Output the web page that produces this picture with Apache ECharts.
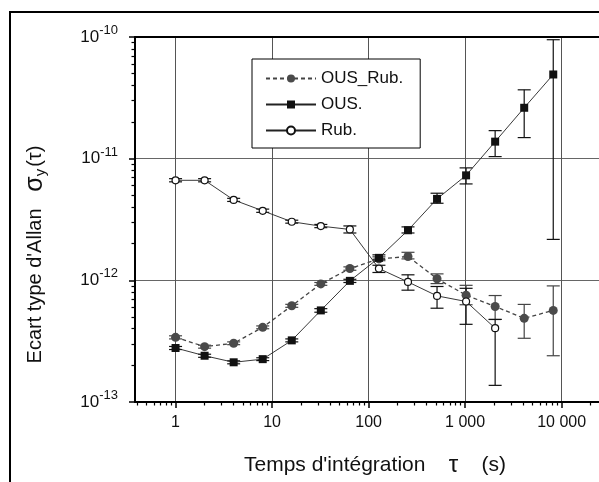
<!DOCTYPE html>
<html>
<head>
<meta charset="utf-8">
<script src="https://cdn.jsdelivr.net/npm/echarts@6/dist/echarts.min.js"></script>
<style>html,body{margin:0;padding:0;background:#fff;}#c{width:599px;height:482px;}</style>
</head>
<body>
<div id="c"></div>
<script>
// Integration time tau (s)
var tau = [1, 2, 4, 8, 16, 32, 64, 128, 256, 512, 1024, 2048, 4096, 8192];

// OUS_Rub
var ousRub     = [3.40e-13, 2.85e-13, 3.04e-13, 4.11e-13, 6.18e-13, 9.35e-13, 1.25e-12, 1.50e-12, 1.57e-12, 1.03e-12, 7.55e-13, 6.10e-13, 4.87e-13, 5.66e-13];
var ousRubHigh = [3.50e-13, 2.93e-13, 3.12e-13, 4.22e-13, 6.35e-13, 9.60e-13, 1.29e-12, 1.56e-12, 1.70e-12, 1.13e-12, 9.10e-13, 7.50e-13, 6.34e-13, 9.00e-13];
var ousRubLow  = [3.30e-13, 2.77e-13, 2.96e-13, 4.00e-13, 6.00e-13, 9.10e-13, 1.21e-12, 1.45e-12, 1.50e-12, 9.40e-13, 6.30e-13, 4.77e-13, 3.34e-13, 2.40e-13];

// OUS.
var ous     = [2.78e-13, 2.40e-13, 2.12e-13, 2.25e-13, 3.21e-13, 5.66e-13, 9.90e-13, 1.53e-12, 2.58e-12, 4.67e-12, 7.29e-12, 1.38e-11, 2.62e-11, 4.92e-11];
var ousHigh = [2.86e-13, 2.47e-13, 2.18e-13, 2.31e-13, 3.30e-13, 5.85e-13, 1.02e-12, 1.62e-12, 2.75e-12, 5.20e-12, 8.40e-12, 1.70e-11, 3.68e-11, 9.50e-11];
var ousLow  = [2.70e-13, 2.33e-13, 2.06e-13, 2.19e-13, 3.12e-13, 5.47e-13, 9.60e-13, 1.49e-12, 2.45e-12, 4.30e-12, 6.20e-12, 1.04e-11, 1.49e-11, 2.17e-12];

// Rub. (no values at 4096, 8192)
var rub     = [6.64e-12, 6.64e-12, 4.58e-12, 3.73e-12, 3.03e-12, 2.79e-12, 2.62e-12, 1.25e-12, 9.70e-13, 7.45e-13, 6.70e-13, 4.04e-13];
var rubHigh = [6.85e-12, 6.85e-12, 4.72e-12, 3.85e-12, 3.12e-12, 2.88e-12, 2.80e-12, 1.33e-12, 1.11e-12, 8.90e-13, 8.60e-13, 4.77e-13];
var rubLow  = [6.45e-12, 6.45e-12, 4.45e-12, 3.62e-12, 2.95e-12, 2.71e-12, 2.45e-12, 1.16e-12, 8.30e-13, 5.90e-13, 4.35e-13, 1.37e-13];

var seriesNames = ['OUS_Rub.', 'OUS.', 'Rub.'];

// Axis ticks / labels
var xMajor = [1, 10, 100, 1000, 10000];
var xMinor = [0.4, 0.5, 0.6, 0.7, 0.8, 0.9];
var yMajor = [1e-13, 1e-12, 1e-11, 1e-10];
var yMinor = [];
(function () {
  var xd = [1, 10, 100, 1000, 10000];
  for (var i = 0; i < xd.length; i++) for (var m = 2; m <= 9; m++) xMinor.push(m * xd[i]);
  var yd = [1e-13, 1e-12, 1e-11];
  for (var j = 0; j < yd.length; j++) for (var k = 2; k <= 9; k++) yMinor.push(k * yd[j]);
})();

var FONT = '"Liberation Sans", Arial, sans-serif';

function pairs(v) { var r = []; for (var i = 0; i < v.length; i++) r.push([tau[i], v[i]]); return r; }
function errRows(lo, hi) { var r = []; for (var i = 0; i < lo.length; i++) r.push([tau[i], lo[i], hi[i]]); return r; }
function errRender(color) {
  return function (params, api) {
    var x = api.value(0), lo = api.value(1), hi = api.value(2);
    var p1 = api.coord([x, hi]), p2 = api.coord([x, lo]);
    var w = 6.5;
    var st = { stroke: color, lineWidth: 1.2 };
    return { type: 'group', children: [
      { type: 'line', shape: { x1: p1[0], y1: p1[1], x2: p2[0], y2: p2[1] }, style: st },
      { type: 'line', shape: { x1: p1[0] - w, y1: p1[1], x2: p1[0] + w, y2: p1[1] }, style: st },
      { type: 'line', shape: { x1: p2[0] - w, y1: p2[1], x2: p2[0] + w, y2: p2[1] }, style: st }
    ] };
  };
}

var XMIN = 0.38, XMAX = 24400, YMIN = 1e-13, YMAX = 1e-10;

var chart = echarts.init(document.getElementById('c'), null, { renderer: 'canvas' });
chart.setOption({
  animation: false,
  backgroundColor: '#fff',
  textStyle: { fontFamily: FONT },
  graphic: [{ type: 'rect', z: 100, silent: true, shape: { x: 10, y: 12, width: 700, height: 600 }, style: { fill: 'none', stroke: '#000', lineWidth: 2 } }],
  grid: { left: 135, top: 37, right: 0, bottom: 79 },
  legend: {
    orient: 'vertical', left: 252, top: 59,
    padding: [11, 17, 9, 13], itemGap: 9, itemWidth: 50, itemHeight: 10,
    backgroundColor: '#fff', borderColor: '#000', borderWidth: 1,
    textStyle: { fontSize: 17, color: '#111', fontFamily: FONT },
    data: seriesNames
  },
  xAxis: [
    {
      type: 'log', logBase: 10, min: XMIN, max: XMAX, position: 'bottom',
      axisLine: { lineStyle: { color: '#000', width: 2 } },
      axisTick: { customValues: xMajor, length: 6, lineStyle: { color: '#000', width: 1.5 } },
      axisLabel: { customValues: xMajor, margin: 13, fontSize: 16, color: '#111', fontFamily: FONT,
        formatter: function (v) { return String(Math.round(v)).replace(/\B(?=(\d{3})+(?!\d))/g, ' '); } },
      splitLine: { show: true, lineStyle: { color: '#555', width: 1 } },
      name: '{t|Temps d\'intégration    }{g|τ}{t|    (s)}', nameLocation: 'middle', nameGap: 50,
      nameTextStyle: { padding: [0, 0, 0, 16], rich: {
        t: { fontSize: 21, color: '#111', fontFamily: FONT, lineHeight: 26 },
        g: { fontSize: 24, color: '#111', fontFamily: FONT, lineHeight: 26 }
      } }
    },
    {
      type: 'log', logBase: 10, min: XMIN, max: XMAX, position: 'bottom',
      axisLine: { show: false },
      axisTick: { customValues: xMinor, length: 3.5, lineStyle: { color: '#000', width: 1.2 } },
      axisLabel: { show: false }, splitLine: { show: false }
    },
    {
      type: 'log', logBase: 10, min: XMIN, max: XMAX, position: 'top',
      axisLine: { lineStyle: { color: '#000', width: 2 } },
      axisTick: { show: false }, axisLabel: { show: false }, splitLine: { show: false }
    }
  ],
  yAxis: [
    {
      type: 'log', logBase: 10, min: YMIN, max: YMAX, position: 'left',
      axisLine: { lineStyle: { color: '#000', width: 2 } },
      axisTick: { customValues: yMajor, length: 6, lineStyle: { color: '#000', width: 1.5 } },
      axisLabel: { customValues: yMajor, margin: 17, color: '#111', fontFamily: FONT,
        formatter: function (v) { return '{b|10}{s|' + Math.round(Math.log10(v)) + '}'; },
        rich: {
          b: { fontSize: 17, lineHeight: 26, color: '#111', fontFamily: FONT },
          s: { fontSize: 13, lineHeight: 13, verticalAlign: 'top', color: '#111', fontFamily: FONT }
        } },
      splitLine: { show: true, lineStyle: { color: '#666', width: 1 } },
      name: '{t|Ecart type d\'Allan}{t|   }{g|σ}{sub|y}{t|(τ)}',
      nameLocation: 'middle', nameGap: 87,
      nameTextStyle: {
        padding: [0, 70, 0, 0],
        rich: {
          t: { fontSize: 20, color: '#111', fontFamily: FONT, lineHeight: 26 },
          g: { fontSize: 25, color: '#111', fontFamily: FONT, lineHeight: 26 },
          sub: { fontSize: 15, color: '#111', fontFamily: FONT, verticalAlign: 'bottom', lineHeight: 18, padding: [0, 2, 0, 0] }
        }
      }
    },
    {
      type: 'log', logBase: 10, min: YMIN, max: YMAX, position: 'left',
      axisLine: { show: false },
      axisTick: { customValues: yMinor, length: 3.5, lineStyle: { color: '#000', width: 1.2 } },
      axisLabel: { show: false }, splitLine: { show: false }
    }
  ],
  series: [
    { type: 'custom', name: 'errOUSRub', xAxisIndex: 0, yAxisIndex: 0, renderItem: errRender('#444'), encode: { x: 0, y: [1, 2] }, data: errRows(ousRubLow, ousRubHigh), z: 3, silent: true },
    { type: 'custom', name: 'errOUS', xAxisIndex: 0, yAxisIndex: 0, renderItem: errRender('#111'), encode: { x: 0, y: [1, 2] }, data: errRows(ousLow, ousHigh), z: 3, silent: true },
    { type: 'custom', name: 'errRub', xAxisIndex: 0, yAxisIndex: 0, renderItem: errRender('#111'), encode: { x: 0, y: [1, 2] }, data: errRows(rubLow, rubHigh), z: 3, silent: true },
    {
      type: 'line', name: seriesNames[0], xAxisIndex: 0, yAxisIndex: 0, data: pairs(ousRub),
      symbol: 'circle', symbolSize: 9, z: 4,
      lineStyle: { color: '#444', width: 1.3, type: [4, 3] },
      itemStyle: { color: '#4a4a4a', borderColor: '#4a4a4a', borderWidth: 0 }
    },
    {
      type: 'line', name: seriesNames[1], xAxisIndex: 0, yAxisIndex: 0, data: pairs(ous),
      symbol: 'rect', symbolSize: 8, z: 4,
      lineStyle: { color: '#222', width: 0.9 },
      itemStyle: { color: '#111', borderColor: '#111', borderWidth: 0 }
    },
    {
      type: 'line', name: seriesNames[2], xAxisIndex: 0, yAxisIndex: 0, data: pairs(rub),
      symbol: 'circle', symbolSize: 7, z: 4,
      lineStyle: { color: '#222', width: 0.9 },
      itemStyle: { color: '#fff', borderColor: '#111', borderWidth: 1.2 }
    }
  ]
});
</script>
</body>
</html>
